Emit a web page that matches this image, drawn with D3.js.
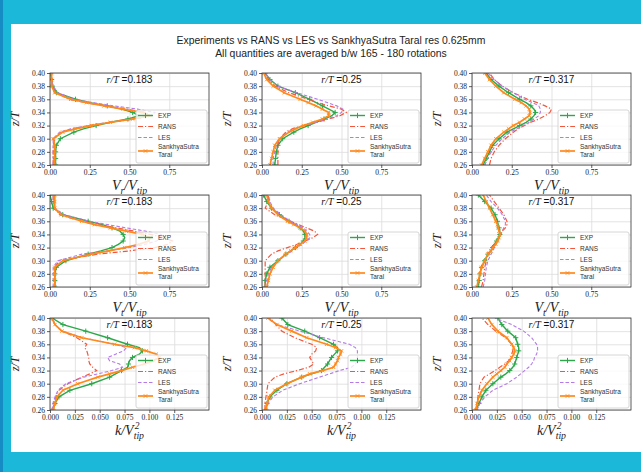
<!DOCTYPE html>
<html>
<head>
<meta charset="utf-8">
<script src="https://cdn.jsdelivr.net/npm/d3@7"></script>
<style>
  html, body { margin: 0; padding: 0; background: #1bb8da; }
  svg { display: block; }
</style>
</head>
<body>
<svg id="chart" width="641" height="472"></svg>
<script>
// heights z/T where every profile is sampled
const zLevels = [0.26, 0.27, 0.28, 0.29, 0.30, 0.31, 0.315, 0.32, 0.325, 0.33,
                 0.335, 0.34, 0.345, 0.35, 0.355, 0.36, 0.37, 0.38, 0.39, 0.40];

const radii = ["0.183", "0.25", "0.317"];
const seriesNames = ["EXP", "RANS", "LES", "SankhyaSutra Taral"];
const xTicksVel = [0, 0.25, 0.5, 0.75];
const xTicksK = [0, 0.025, 0.05, 0.075, 0.1, 0.125];
const yTicks = [0.26, 0.28, 0.30, 0.32, 0.34, 0.36, 0.38, 0.40];

// radial velocity Vr/Vtip
const expVr183   = [0.035,0.035,0.035,0.04,0.065,0.15,0.21,0.29,0.38,0.49,0.56,0.52,0.45,0.36,0.25,0.16,0.04,0.015,0.01,0.005];
const ransVr183  = [0.02,0.02,0.02,0.02,0.03,0.07,0.14,0.25,0.38,0.53,0.63,0.60,0.48,0.35,0.22,0.12,0.04,0.02,0.01,0.01];
const lesVr183   = [0.02,0.02,0.02,0.02,0.02,0.06,0.13,0.24,0.37,0.52,0.64,0.66,0.55,0.40,0.27,0.15,0.05,0.02,0.01,0.01];
const taralVr183 = [0.03,0.03,0.03,0.03,0.02,0.08,0.16,0.26,0.38,0.52,0.63,0.58,0.46,0.34,0.23,0.13,0.03,0.01,0.01,0.01];

const expVr25    = [0.08,0.085,0.09,0.10,0.13,0.20,0.24,0.29,0.34,0.39,0.44,0.46,0.42,0.38,0.34,0.30,0.21,0.10,0.05,0.02];
const ransVr25   = [0.10,0.10,0.10,0.10,0.11,0.15,0.19,0.26,0.34,0.42,0.49,0.53,0.50,0.42,0.35,0.29,0.17,0.08,0.04,0.02];
const lesVr25    = [0.07,0.07,0.08,0.09,0.11,0.16,0.20,0.27,0.34,0.41,0.47,0.50,0.51,0.47,0.41,0.35,0.22,0.10,0.05,0.02];
const taralVr25  = [0.05,0.06,0.07,0.08,0.11,0.17,0.21,0.26,0.32,0.38,0.42,0.42,0.38,0.34,0.29,0.24,0.14,0.07,0.03,0.01];

const expVr317   = [0.07,0.09,0.11,0.13,0.17,0.22,0.26,0.30,0.34,0.37,0.39,0.40,0.39,0.37,0.34,0.30,0.23,0.17,0.12,0.09];
const ransVr317  = [0.11,0.12,0.14,0.17,0.21,0.26,0.29,0.33,0.37,0.42,0.46,0.49,0.50,0.46,0.41,0.35,0.26,0.19,0.14,0.11];
const lesVr317   = [0.08,0.10,0.12,0.15,0.19,0.24,0.28,0.32,0.36,0.39,0.42,0.43,0.43,0.42,0.38,0.33,0.26,0.19,0.14,0.10];
const taralVr317 = [0.06,0.08,0.10,0.12,0.15,0.20,0.23,0.26,0.30,0.33,0.36,0.365,0.36,0.34,0.31,0.27,0.20,0.15,0.11,0.08];

// tangential velocity Vt/Vtip
const expVt183   = [0.03,0.03,0.03,0.04,0.10,0.24,0.32,0.39,0.43,0.46,0.47,0.46,0.44,0.39,0.33,0.24,0.08,0.02,0.01,0.0];
const ransVt183  = [0.03,0.03,0.03,0.03,0.06,0.30,0.50,0.66,0.74,0.77,0.72,0.63,0.53,0.42,0.30,0.20,0.06,0.03,0.02,0.02];
const lesVt183   = [0.02,0.02,0.02,0.02,0.05,0.20,0.36,0.50,0.60,0.67,0.71,0.70,0.60,0.48,0.36,0.25,0.09,0.03,0.02,0.02];
const taralVt183 = [0.03,0.03,0.03,0.03,0.08,0.26,0.37,0.47,0.56,0.62,0.63,0.58,0.48,0.38,0.28,0.20,0.07,0.03,0.03,0.03];

const expVt25    = [0.02,0.02,0.03,0.05,0.10,0.15,0.18,0.21,0.24,0.26,0.27,0.27,0.26,0.24,0.21,0.17,0.11,0.06,0.03,0.01];
const ransVt25   = [0.02,0.02,0.02,0.02,0.02,0.06,0.10,0.16,0.22,0.27,0.32,0.35,0.33,0.28,0.23,0.18,0.08,0.02,0.04,0.04];
const lesVt25    = [0.02,0.03,0.04,0.06,0.10,0.16,0.19,0.22,0.25,0.28,0.30,0.30,0.28,0.26,0.22,0.18,0.12,0.07,0.05,0.04];
const taralVt25  = [0.03,0.04,0.05,0.07,0.10,0.15,0.18,0.21,0.24,0.27,0.28,0.28,0.27,0.24,0.20,0.16,0.10,0.06,0.04,0.03];

const expVt317   = [0.04,0.045,0.05,0.06,0.08,0.10,0.12,0.13,0.14,0.155,0.165,0.175,0.175,0.17,0.165,0.16,0.145,0.12,0.08,0.04];
const ransVt317  = [0.06,0.07,0.075,0.08,0.09,0.10,0.11,0.12,0.14,0.16,0.17,0.18,0.19,0.21,0.22,0.22,0.20,0.17,0.14,0.11];
const lesVt317   = [0.07,0.08,0.085,0.09,0.10,0.12,0.13,0.14,0.15,0.16,0.17,0.18,0.19,0.20,0.21,0.21,0.19,0.16,0.12,0.09];
const taralVt317 = [0.03,0.04,0.05,0.06,0.08,0.10,0.12,0.13,0.15,0.16,0.17,0.175,0.17,0.165,0.16,0.15,0.13,0.11,0.09,0.07];

// turbulent kinetic energy k/Vtip^2
const expK183    = [0.003,0.005,0.009,0.02,0.042,0.06,0.066,0.072,0.078,0.079,0.08,0.083,0.09,0.093,0.09,0.078,0.058,0.036,0.013,0.002];
const ransK183   = [0.003,0.004,0.006,0.009,0.018,0.032,0.04,0.047,0.043,0.04,0.039,0.039,0.038,0.037,0.035,0.037,0.027,0.012,0.005,0.002];
const lesK183    = [0.002,0.003,0.005,0.008,0.016,0.034,0.048,0.062,0.073,0.07,0.06,0.058,0.066,0.074,0.077,0.065,0.033,0.012,0.005,0.002];
const taralK183  = [0.003,0.005,0.007,0.013,0.028,0.048,0.06,0.072,0.083,0.095,0.104,0.11,0.107,0.097,0.085,0.065,0.032,0.012,0.005,0.002];

const expK25     = [0.004,0.005,0.008,0.015,0.025,0.04,0.05,0.06,0.063,0.066,0.068,0.07,0.073,0.076,0.076,0.072,0.058,0.043,0.026,0.02];
const ransK25    = [0.003,0.003,0.004,0.005,0.006,0.013,0.022,0.035,0.047,0.052,0.05,0.048,0.05,0.054,0.055,0.05,0.033,0.02,0.014,0.008];
const lesK25     = [0.004,0.006,0.011,0.021,0.038,0.058,0.068,0.078,0.09,0.094,0.096,0.096,0.096,0.096,0.094,0.088,0.062,0.038,0.015,0.005];
const taralK25   = [0.004,0.005,0.007,0.013,0.025,0.04,0.048,0.061,0.072,0.074,0.076,0.077,0.079,0.08,0.074,0.065,0.045,0.03,0.015,0.006];

const expK317    = [0.004,0.007,0.01,0.014,0.021,0.029,0.034,0.038,0.041,0.043,0.044,0.045,0.046,0.047,0.047,0.046,0.044,0.036,0.03,0.026];
const ransK317   = [0.004,0.005,0.006,0.007,0.008,0.012,0.018,0.023,0.028,0.033,0.037,0.039,0.04,0.041,0.041,0.04,0.034,0.024,0.016,0.01];
const lesK317    = [0.005,0.008,0.013,0.021,0.035,0.045,0.049,0.053,0.057,0.06,0.062,0.063,0.065,0.066,0.066,0.065,0.06,0.052,0.04,0.023];
const taralK317  = [0.004,0.005,0.007,0.01,0.015,0.021,0.025,0.029,0.033,0.035,0.038,0.04,0.042,0.043,0.042,0.04,0.035,0.026,0.02,0.016];

const rows = [
  {xMax: 1.0,  ticks: xTicksVel, fmt: ".2f", sub: "r",
   data: [[expVr183, ransVr183, lesVr183, taralVr183], [expVr25, ransVr25, lesVr25, taralVr25], [expVr317, ransVr317, lesVr317, taralVr317]]},
  {xMax: 1.0,  ticks: xTicksVel, fmt: ".2f", sub: "t",
   data: [[expVt183, ransVt183, lesVt183, taralVt183], [expVt25, ransVt25, lesVt25, taralVt25], [expVt317, ransVt317, lesVt317, taralVt317]]},
  {xMax: 0.16, ticks: xTicksK,   fmt: ".3f", sub: null,
   data: [[expK183, ransK183, lesK183, taralK183], [expK25, ransK25, lesK25, taralK25], [expK317, ransK317, lesK317, taralK317]]}
];

const styles = [
  {color: "#2ca84a", width: 1.4, dash: null,          marker: "plus"},
  {color: "#f5563b", width: 1.2, dash: "5,2,1.2,2",   marker: null},
  {color: "#b47ae6", width: 1.1, dash: "3.5,2",       marker: null},
  {color: "#ff8a1c", width: 1.7, dash: null,          marker: "cross"}
];
const markerPath = {
  plus: "M-2.6,0H2.6M0,-2.6V2.6",
  cross: "M-1.7,-1.7L1.7,1.7M-1.7,1.7L1.7,-1.7"
};

const SERIF = "'Liberation Serif', 'DejaVu Serif', serif";
const SANS = "'Liberation Sans', Arial, sans-serif";

const colX = [50, 262, 472];
const rowY = [73, 195, 318];
const W = 159, H = 92;

const svg = d3.select("#chart");

// frame around the figure
svg.append("rect").attr("width", 641).attr("height", 472).attr("fill", "#1bb8da");
svg.append("rect").attr("width", 3).attr("height", 472).attr("fill", "#168cc4");
svg.append("rect").attr("x", 11).attr("y", 24).attr("width", 630).attr("height", 428).attr("fill", "#ffffff");

svg.append("text")
  .attr("x", 331).attr("y", 44)
  .attr("text-anchor", "middle")
  .attr("font-family", SANS).attr("font-size", 10.4).attr("fill", "#222")
  .text("Experiments vs RANS vs LES vs SankhyaSutra Taral res 0.625mm");
svg.append("text")
  .attr("x", 331).attr("y", 57)
  .attr("text-anchor", "middle")
  .attr("font-family", SANS).attr("font-size", 10.4).attr("fill", "#222")
  .text("All quantities are averaged b/w 165 - 180 rotations");

function mathText(sel, parts, size, x, y) {
  const t = sel.append("text")
    .attr("x", x).attr("y", y)
    .attr("text-anchor", "middle")
    .attr("font-family", SERIF).attr("font-style", "italic")
    .attr("font-size", size).attr("fill", "#222");
  let shift = 0;
  const spans = parts.map(p => {
    const target = p.sub ? 0.28 * size : 0;
    const s = t.append("tspan")
      .attr("dy", target - shift)
      .attr("font-size", p.sub ? size * 0.7 : size)
      .text(p.t);
    shift = target;
    return s;
  });
  return {text: t, spans: spans};
}

function drawPanel(r, c) {
  const row = rows[r];
  const left = colX[c], top = rowY[r];
  const x = d3.scaleLinear().domain([0, row.xMax]).range([0, W]);
  const y = d3.scaleLinear().domain([0.26, 0.40]).range([H, 0]);

  const g = svg.append("g").attr("transform", `translate(${left},${top})`);
  const clipId = `clip-${r}-${c}`;
  g.append("clipPath").attr("id", clipId)
    .append("rect").attr("width", W).attr("height", H);

  // grid
  g.append("g")
    .attr("transform", `translate(0,${H})`)
    .call(d3.axisBottom(x).tickValues(row.ticks).tickSize(-H).tickFormat(""))
    .call(a => a.select(".domain").remove())
    .call(a => a.selectAll("line").attr("stroke", "#dcdcdc").attr("stroke-width", 0.8));
  g.append("g")
    .call(d3.axisLeft(y).tickValues(yTicks).tickSize(-W).tickFormat(""))
    .call(a => a.select(".domain").remove())
    .call(a => a.selectAll("line").attr("stroke", "#dcdcdc").attr("stroke-width", 0.8));

  // profiles
  const plot = g.append("g").attr("clip-path", `url(#${clipId})`);
  row.data[c].forEach((vals, i) => {
    const st = styles[i];
    const pts = zLevels.map((z, k) => ({z: z, v: vals[k]}));
    const line = d3.line().x(d => x(d.v)).y(d => y(d.z));
    plot.append("path")
      .datum(pts)
      .attr("d", line)
      .attr("fill", "none")
      .attr("stroke", st.color)
      .attr("stroke-width", st.width)
      .attr("stroke-dasharray", st.dash);
    if (st.marker) {
      const mk = st.marker === "plus"
        ? pts.filter(d => Math.round(d.z * 1000) % 10 === 0)
        : pts;
      plot.append("g").selectAll("path")
        .data(mk)
        .join("path")
        .attr("transform", d => `translate(${x(d.v)},${y(d.z)})`)
        .attr("d", markerPath[st.marker])
        .attr("stroke", st.color)
        .attr("stroke-width", st.marker === "plus" ? 1 : 0.9)
        .attr("fill", "none");
    }
  });

  // axes
  const fmt = d3.format(row.fmt);
  g.append("g")
    .attr("transform", `translate(0,${H})`)
    .call(d3.axisBottom(x).tickValues(row.ticks).tickFormat(fmt).tickSizeInner(3).tickSizeOuter(0).tickPadding(2))
    .call(a => a.select(".domain").remove())
    .call(a => a.selectAll("line").attr("stroke", "#333").attr("stroke-width", 0.8))
    .call(a => a.selectAll("text").attr("font-family", SERIF).attr("font-size", 7.5).attr("fill", "#222"));
  g.append("g")
    .call(d3.axisLeft(y).tickValues(yTicks).tickFormat(d3.format(".2f")).tickSizeInner(3).tickSizeOuter(0).tickPadding(2))
    .call(a => a.select(".domain").remove())
    .call(a => a.selectAll("line").attr("stroke", "#333").attr("stroke-width", 0.8))
    .call(a => a.selectAll("text").attr("font-family", SERIF).attr("font-size", 7.5).attr("fill", "#222"));
  g.append("rect")
    .attr("width", W).attr("height", H)
    .attr("fill", "none").attr("stroke", "#333").attr("stroke-width", 0.8);

  // panel title r/T = ...
  const title = g.append("text")
    .attr("x", W / 2).attr("y", 10)
    .attr("text-anchor", "middle")
    .attr("font-size", 10).attr("fill", "#111");
  title.append("tspan").attr("font-family", SERIF).attr("font-style", "italic").text("r/T");
  title.append("tspan").attr("font-family", SANS).text(" =" + radii[c]);

  // legend
  const lg = g.append("g").attr("transform", `translate(${W - 73},${H - 55})`);
  lg.append("rect")
    .attr("width", 71).attr("height", 53).attr("rx", 2)
    .attr("fill", "#fff").attr("fill-opacity", 0.8)
    .attr("stroke", "#cccccc").attr("stroke-width", 0.8);
  const entryY = [5.5, 16.5, 27.5, 41];
  seriesNames.forEach((name, i) => {
    const st = styles[i];
    const ey = entryY[i];
    lg.append("line")
      .attr("x1", 2).attr("x2", 17).attr("y1", ey).attr("y2", ey)
      .attr("stroke", st.color).attr("stroke-width", st.width)
      .attr("stroke-dasharray", st.dash);
    if (st.marker) {
      lg.append("path")
        .attr("transform", `translate(9.5,${ey})`)
        .attr("d", markerPath[st.marker])
        .attr("stroke", st.color).attr("stroke-width", 1).attr("fill", "none");
    }
    const words = name.split(" ");
    const t = lg.append("text")
      .attr("x", 22)
      .attr("font-family", SANS).attr("font-size", 6.5).attr("fill", "#333");
    if (words.length === 1) {
      t.attr("y", ey + 2.3).text(name);
    } else {
      t.append("tspan").attr("x", 22).attr("y", ey - 1.6).text(words[0]);
      t.append("tspan").attr("x", 22).attr("y", ey + 6).text(words[1]);
    }
  });

  // axis labels
  const xl = mathText(svg, row.sub
      ? [{t: "V"}, {t: row.sub, sub: true}, {t: "/V"}, {t: "tip", sub: true}]
      : [{t: "k/V"}, {t: "tip", sub: true}],
    14, left + W / 2, top + H + 25);
  if (!row.sub) {
    const sx = xl.spans[1].node().getStartPositionOfChar(0).x;
    svg.append("text")
      .attr("x", sx + 1).attr("y", top + H + 19)
      .attr("font-family", SERIF).attr("font-style", "italic")
      .attr("font-size", 9.5).attr("fill", "#222")
      .text("2");
  }
  svg.append("text")
    .attr("transform", `translate(${left - 31},${top + H / 2}) rotate(-90)`)
    .attr("text-anchor", "middle")
    .attr("font-family", SERIF).attr("font-style", "italic")
    .attr("font-size", 12).attr("fill", "#222")
    .text("z/T");
}

for (let r = 0; r < 3; r++) {
  for (let c = 0; c < 3; c++) {
    drawPanel(r, c);
  }
}
</script>
</body>
</html>
